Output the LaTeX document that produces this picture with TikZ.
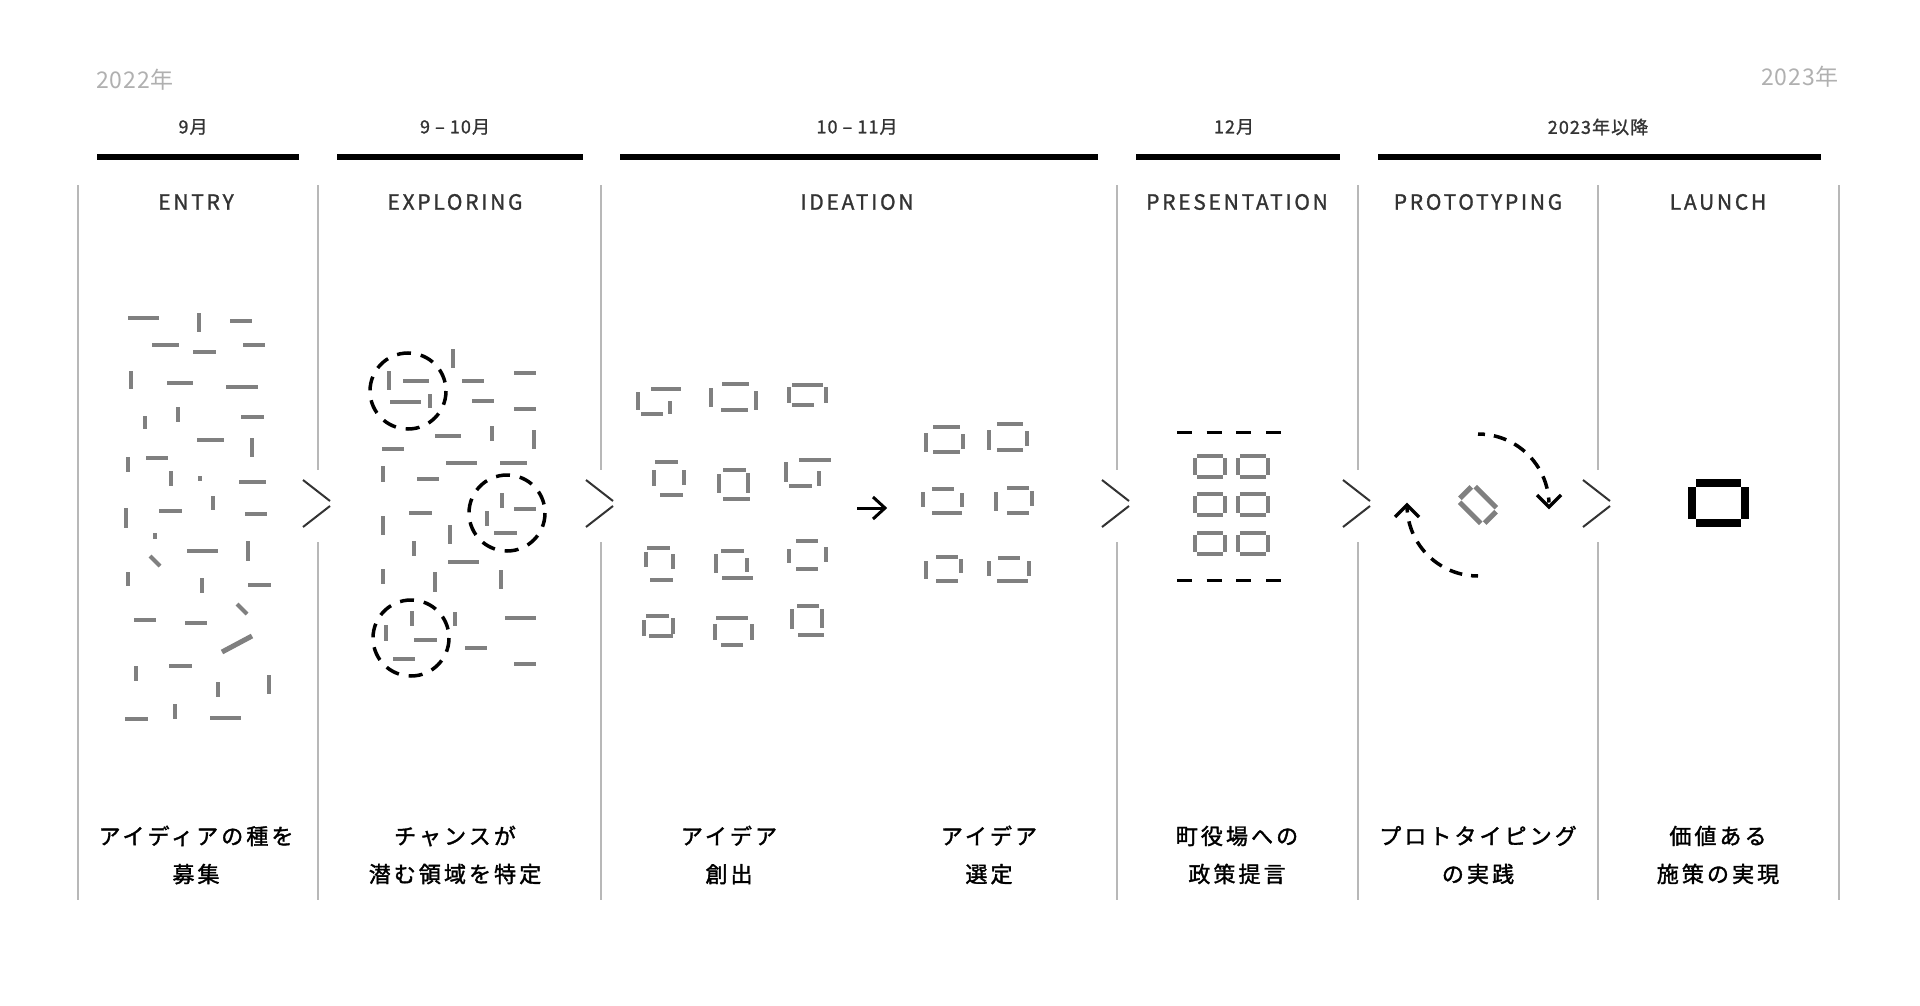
\documentclass[tikz,border=0pt]{standalone}
\usepackage{fontspec}
\setmainfont{Noto Sans CJK JP}
\newfontfamily\ttlfont[LetterSpace=13,FakeBold=1.2]{Noto Sans CJK JP}
\newfontfamily\monfont[LetterSpace=6,FakeBold=1.2]{Noto Sans CJK JP}
\newfontfamily\yrfont[LetterSpace=4]{Noto Sans CJK JP}
\newfontfamily\jpfont[LetterSpace=14,FakeBold=1.6]{Noto Sans CJK JP}
\usetikzlibrary{arrows.meta}
\definecolor{gbar}{HTML}{808080}
\definecolor{divc}{HTML}{B8B8B8}
\definecolor{txtc}{HTML}{333333}
\definecolor{yrc}{HTML}{B0B0B0}
\newcommand\myh[3]{\draw[bar] (#1,#3) -- (#2,#3);}
\newcommand\myv[3]{\draw[bar] (#1,#2) -- (#1,#3);}
\newcommand\presbox[2]{%
  \draw[bar] (#1+4,#2+2) -- (#1+30,#2+2);
  \draw[bar] (#1+4,#2+23) -- (#1+30,#2+23);
  \draw[bar] (#1+2,#2+4) -- (#1+2,#2+21);
  \draw[bar] (#1+32,#2+4) -- (#1+32,#2+21);}
\begin{document}
\begin{tikzpicture}[x=1pt,y=-1pt,
  bar/.style={draw=gbar,line width=4pt},
  divline/.style={draw=divc,line width=1.5pt},
  chev/.style={draw=txtc,line width=2pt},
  period/.style={draw=black,line width=5.5pt},
  yearlbl/.style={text=yrc,font=\yrfont\fontsize{23}{26}\selectfont,inner sep=0pt},
  monlbl/.style={text=txtc,font=\monfont\fontsize{18}{20}\selectfont,inner sep=0pt},
  phase/.style={text=txtc,font=\ttlfont\fontsize{21}{24}\selectfont,inner sep=0pt},
  desc/.style={text=black,font=\jpfont\fontsize{22}{38}\selectfont,align=center,inner sep=0pt},
  dcirc/.style={draw=black,line width=3.5pt,dash pattern=on 14pt off 10pt},
  darc/.style={draw=black,line width=3.5pt,dash pattern=on 13pt off 9pt,dash phase=6pt},
  tipline/.style={draw=black,line width=3.5pt},
  blackbar/.style={draw=black,line width=8pt},
  pdash/.style={draw=black,line width=3pt,dash pattern=on 15pt off 14.7pt}
]
\useasboundingbox[fill=white] (0,0) rectangle (1920,1006);

% year labels
\node[yearlbl,anchor=west] (y22) at (96,80) {2022年};
\node[yearlbl,anchor=east] (y23) at (1839,77) {2023年};

% month labels
\node[monlbl] (m1) at (193,127) {9月};
\node[monlbl] (m2) at (455,127) {9 – 10月};
\node[monlbl] (m3) at (857,127) {10 – 11月};
\node[monlbl] (m4) at (1234,127) {12月};
\node[monlbl] (m5) at (1598,127) {2023年以降};

% period bars
\draw[period] (97,157) -- (299,157);
\draw[period] (337,157) -- (583,157);
\draw[period] (620,157) -- (1098,157);
\draw[period] (1136,157) -- (1340,157);
\draw[period] (1378,157) -- (1821,157);

% phase titles
\node[phase] (p1) at (196,202) {ENTRY};
\node[phase] (p2) at (455,202) {EXPLORING};
\node[phase] (p3) at (857,202) {IDEATION};
\node[phase] (p4) at (1237,202) {PRESENTATION};
\node[phase] (p5) at (1478,202) {PROTOTYPING};
\node[phase] (p6) at (1718,202) {LAUNCH};

% dividers
\draw[divline] (78,185) -- (78,900);
\draw[divline] (1839,185) -- (1839,900);
\foreach \x in {318,601,1117,1358,1598}{
  \draw[divline] (\x,185) -- (\x,470) (\x,542) -- (\x,900);
  \draw[chev] (\x-15,480) -- (\x+12,501);
  \draw[chev] (\x+12,506) -- (\x-15,527);
}

% ENTRY scatter
\myh{128}{159}{318}\myh{230}{252}{321}\myh{152}{179}{345}\myh{193}{216}{352}
\myh{243}{265}{345}\myh{167}{193}{383}\myh{226}{258}{387}\myh{241}{264}{417}
\myh{197}{224}{440}\myh{146}{168}{458}\myh{239}{266}{482}\myh{159}{182}{511}
\myh{245}{267}{514}\myh{187}{218}{551}\myh{248}{271}{585}\myh{134}{156}{620}
\myh{185}{207}{623}\myh{169}{192}{666}\myh{125}{148}{719}\myh{210}{241}{718}
\myv{199}{313}{332}\myv{131}{371}{389}\myv{178}{407}{422}\myv{145}{416}{429}
\myv{252}{438}{457}\myv{128}{457}{472}\myv{171}{471}{486}\myv{200}{476}{481}
\myv{213}{496}{510}\myv{126}{508}{528}\myv{155}{533}{539}\myv{248}{541}{561}
\myv{128}{572}{586}\myv{202}{578}{593}\myv{136}{666}{681}\myv{218}{682}{697}
\myv{269}{675}{694}\myv{175}{704}{719}
\draw[bar] (150,556) -- (160,566);
\draw[bar] (237,604) -- (247,614);
\draw[bar,line width=5pt] (222,652) -- (252,636);

% EXPLORING scatter
\myh{403}{429}{381}\myh{390}{421}{402}\myh{462}{484}{381}\myh{472}{494}{401}
\myh{514}{536}{373}\myh{514}{536}{409}\myh{435}{461}{436}\myh{382}{404}{449}
\myh{446}{477}{463}\myh{500}{527}{463}\myh{417}{439}{479}\myh{514}{536}{509}
\myh{494}{517}{533}\myh{409}{432}{513}\myh{448}{479}{562}\myh{505}{536}{618}
\myh{414}{437}{640}\myh{465}{487}{648}\myh{393}{415}{659}\myh{514}{536}{664}
\myv{389}{371}{390}\myv{430}{394}{408}\myv{453}{349}{368}\myv{492}{426}{441}
\myv{534}{430}{449}\myv{383}{466}{482}\myv{383}{516}{535}\myv{414}{541}{556}
\myv{450}{525}{544}\myv{502}{493}{508}\myv{487}{511}{526}\myv{383}{569}{584}
\myv{435}{572}{592}\myv{501}{570}{589}\myv{412}{611}{626}\myv{455}{612}{626}
\myv{386}{625}{641}
\draw[dcirc] (408,391) circle[radius=38];
\draw[dcirc] (507,513) circle[radius=38];
\draw[dcirc] (411,638) circle[radius=38];

% IDEATION
\myv{638}{392}{410}\myh{651}{681}{389}\myv{670}{401}{414}\myh{641}{663}{414}
\myv{711}{388}{407}\myh{722}{749}{384}\myv{756}{391}{410}\myh{721}{748}{410}
\myv{789}{387}{403}\myh{792}{823}{385}\myv{826}{387}{403}\myh{792}{814}{405}
\myv{654}{470}{486}\myh{655}{678}{462}\myv{684}{470}{485}\myh{660}{683}{495}
\myv{719}{474}{493}\myh{723}{746}{470}\myv{748}{473}{493}\myh{723}{750}{499}
\myv{786}{462}{482}\myh{799}{831}{460}\myv{819}{471}{486}\myh{789}{812}{486}
\myv{646}{552}{567}\myh{647}{670}{548}\myv{673}{554}{569}\myh{650}{673}{580}
\myv{716}{554}{573}\myh{721}{744}{551}\myv{747}{558}{572}\myh{722}{753}{578}
\myv{789}{549}{563}\myh{796}{818}{541}\myv{826}{547}{562}\myh{796}{818}{569}
\myv{644}{620}{636}\myh{646}{669}{616}\myv{673}{618}{634}\myh{649}{673}{636}
\myv{715}{624}{640}\myh{716}{748}{618}\myv{752}{624}{640}\myh{721}{743}{645}
\myv{792}{609}{629}\myh{797}{819}{606}\myv{822}{609}{628}\myh{798}{824}{635}
\myv{926}{433}{452}\myh{933}{960}{427}\myv{963}{434}{449}\myh{933}{960}{452}
\myv{989}{430}{450}\myh{997}{1023}{424}\myv{1027}{431}{446}\myh{997}{1023}{450}
\myv{923}{492}{507}\myh{932}{954}{489}\myv{962}{493}{507}\myh{932}{962}{513}
\myv{996}{492}{511}\myh{1007}{1029}{488}\myv{1032}{491}{506}\myh{1007}{1029}{513}
\myv{926}{561}{579}\myh{936}{958}{557}\myv{961}{559}{573}\myh{936}{958}{581}
\myv{989}{561}{576}\myh{998}{1020}{558}\myv{1029}{561}{576}\myh{997}{1028}{581}
\coordinate (ia) at (857,508);
\coordinate (ib) at (885,508);
\draw[draw=black,line width=3pt] (ia) -- (ib);
\draw[draw=black,line width=3pt] (873,497) -- (ib) -- (873,519);

% PRESENTATION
\draw[pdash] (1177,432) -- (1281,432);
\draw[pdash] (1177,580) -- (1281,580);
\presbox{1193}{454}\presbox{1236}{454}
\presbox{1193}{492}\presbox{1236}{492}
\presbox{1193}{531}\presbox{1236}{531}

% PROTOTYPING
\begin{scope}[shift={(1478,505)},rotate=-45]
  \draw[bar,line width=5pt] (-15,-11) -- (15,-11);
  \draw[bar,line width=5pt] (-15,11) -- (15,11);
  \draw[bar,line width=5pt] (-17.5,-8) -- (-17.5,8);
  \draw[bar,line width=5pt] (17.5,-8) -- (17.5,8);
\end{scope}
\coordinate (pc) at (1478,505);
\draw[darc] (1478,434) arc[start angle=-90,end angle=-2,radius=71];
\draw[tipline] (1537,495) -- (1549,507) -- (1561,495);
\draw[darc] (1478,576) arc[start angle=90,end angle=178,radius=71];
\draw[tipline] (1395,517) -- (1407,505) -- (1419,517);

% LAUNCH
\draw[blackbar] (1696,483) -- (1741,483);
\draw[blackbar] (1696,523) -- (1741,523);
\draw[blackbar] (1692,487) -- (1692,519);
\draw[blackbar] (1745,487) -- (1745,519);

% descriptions
\node[desc] (d1) at (196,855) {アイディアの種を\\募集};
\node[desc] (d2) at (455,855) {チャンスが\\潜む領域を特定};
\node[desc] (d3) at (729,855) {アイデア\\創出};
\node[desc] (d4) at (989,855) {アイデア\\選定};
\node[desc] (d5) at (1237,855) {町役場への\\政策提言};
\node[desc] (d6) at (1478,855) {プロトタイピング\\の実践};
\node[desc] (d7) at (1718,855) {価値ある\\施策の実現};
\end{tikzpicture}
\end{document}
